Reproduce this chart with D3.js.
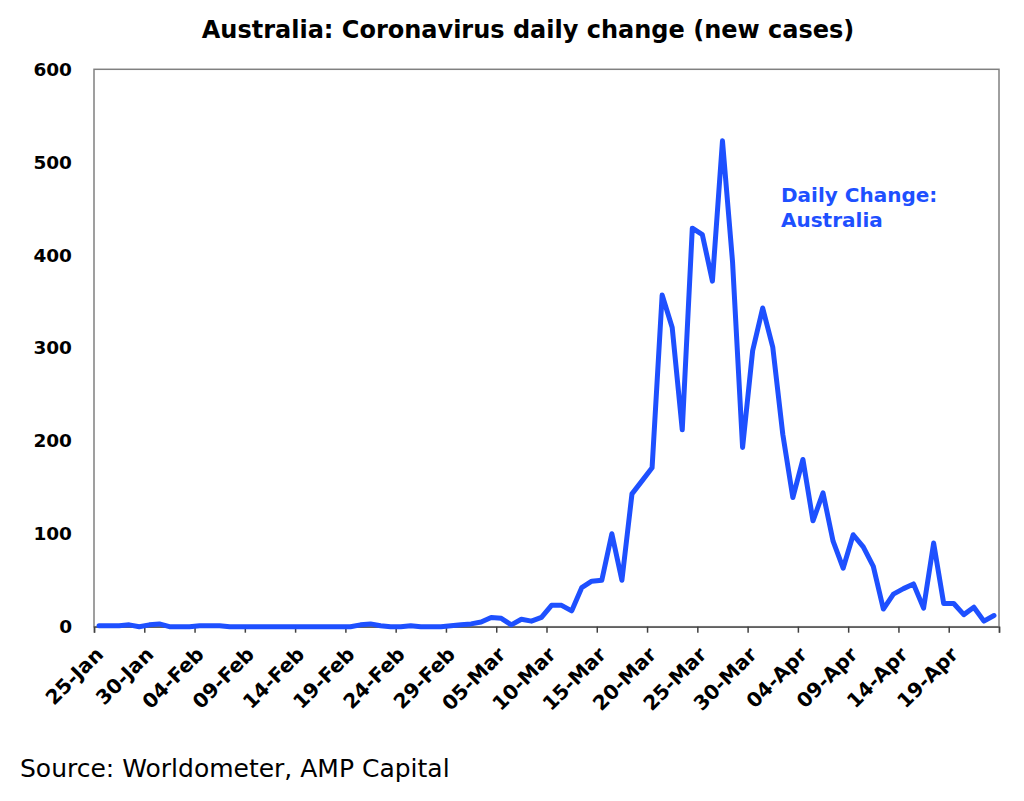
<!DOCTYPE html>
<html>
<head>
<meta charset="utf-8">
<script src="https://cdn.jsdelivr.net/npm/d3@7"></script>
<style>
  html, body { margin: 0; padding: 0; background: #fff; }
  svg { display: block; }
</style>
</head>
<body>
<svg id="chart" width="1024" height="801"></svg>
<script>
// ---- data ----
const startDate = "2020-01-25";   // first daily value
const axisEndDate = "2020-04-24"; // right edge of the date axis
const dailyNewCases = [
  1, 1, 1, 2, 0, 2, 3, 0, 0, 0,
  1, 1, 1, 0, 0, 0, 0, 0, 0, 0,
  0, 0, 0, 0, 0, 0, 2, 3, 1, 0,
  0, 1, 0, 0, 0, 1, 2, 3, 5, 10,
  9, 2, 8, 6, 10, 23, 23, 17, 42, 49,
  50, 100, 50, 143, 157, 171, 357, 322, 212, 429,
  422, 372, 523, 393, 193, 297, 343, 301, 207, 139,
  180, 114, 144, 92, 63, 99, 86, 65, 19, 35,
  41, 46, 20, 90, 25, 25, 13, 21, 6, 12
];
const xTickLabels = ["25-Jan","30-Jan","04-Feb","09-Feb","14-Feb","19-Feb","24-Feb","29-Feb",
  "05-Mar","10-Mar","15-Mar","20-Mar","25-Mar","30-Mar","04-Apr","09-Apr","14-Apr","19-Apr",""];
const yTicks = [0, 100, 200, 300, 400, 500, 600];
const titleText = "Australia: Coronavirus daily change (new cases)";
const seriesLabel = ["Daily Change:", "Australia"];
const sourceText = "Source: Worldometer, AMP Capital";

// ---- layout ----
const plotLeft = 94, plotRight = 999, plotTop = 69.3, plotBottom = 626.7;
const blue = "#1E50FF";
const boldFont = "Verdana, 'DejaVu Sans', sans-serif";

const svg = d3.select("#chart");

const parse = d3.utcParse("%Y-%m-%d");
const t0 = parse(startDate), t1 = parse(axisEndDate);
const dates = d3.utcDay.range(t0, d3.utcDay.offset(t0, dailyNewCases.length));
const data = dates.map((d, i) => ({ date: d, value: dailyNewCases[i] }));

const x = d3.scaleUtc().domain([t0, t1]).range([plotLeft, plotRight]);
const y = d3.scaleLinear().domain([0, 600]).range([plotBottom, plotTop]);

// title
svg.append("text")
  .attr("x", 528).attr("y", 38)
  .attr("text-anchor", "middle")
  .attr("font-family", boldFont)
  .attr("font-weight", "bold")
  .attr("font-size", 24)
  .attr("fill", "#000")
  .text(titleText);

// plot frame
svg.append("rect")
  .attr("x", plotLeft).attr("y", plotTop)
  .attr("width", plotRight - plotLeft).attr("height", plotBottom - plotTop)
  .attr("fill", "none")
  .attr("stroke", "#808080")
  .attr("stroke-width", 1.5);

// y axis (labels only)
const yAxis = svg.append("g")
  .attr("transform", `translate(${plotLeft},0)`)
  .call(d3.axisLeft(y).tickValues(yTicks).tickSize(0).tickPadding(22));
yAxis.select(".domain").remove();
yAxis.selectAll("text")
  .attr("font-family", boldFont)
  .attr("font-weight", "bold")
  .attr("font-size", 18.5)
  .attr("fill", "#000");

// x axis
const tickDates = xTickLabels.map((_, k) => d3.utcDay.offset(t0, k * 5));
const xAxis = svg.append("g")
  .attr("transform", `translate(0,${plotBottom})`)
  .call(d3.axisBottom(x).tickValues(tickDates).tickSize(6)
    .tickFormat((d, i) => xTickLabels[i]));
xAxis.select(".domain").attr("stroke", "#606060").attr("stroke-width", 1.5);
xAxis.selectAll(".tick line").attr("stroke", "#404040").attr("stroke-width", 1.5);
xAxis.selectAll(".tick text")
  .attr("font-family", boldFont)
  .attr("font-weight", "bold")
  .attr("font-size", 20)
  .attr("fill", "#000")
  .attr("text-anchor", "end")
  .attr("y", 0).attr("dy", "0.35em")
  .attr("transform", "translate(5,24) rotate(-45)");

// line
const line = d3.line()
  .x(d => x(d3.utcHour.offset(d.date, 12)))
  .y(d => y(d.value));
svg.append("path")
  .datum(data)
  .attr("d", line)
  .attr("fill", "none")
  .attr("stroke", blue)
  .attr("stroke-width", 5)
  .attr("stroke-linejoin", "round")
  .attr("stroke-linecap", "round");

// series label
const lab = svg.append("text")
  .attr("font-family", boldFont)
  .attr("font-weight", "bold")
  .attr("font-size", 20)
  .attr("fill", blue);
lab.append("tspan").attr("x", 781).attr("y", 202).text(seriesLabel[0]);
lab.append("tspan").attr("x", 781).attr("y", 227).text(seriesLabel[1]);

// source
svg.append("text")
  .attr("x", 20).attr("y", 777)
  .attr("font-family", "'DejaVu Sans', sans-serif")
  .attr("font-size", 25)
  .attr("fill", "#000")
  .text(sourceText);
</script>
</body>
</html>
